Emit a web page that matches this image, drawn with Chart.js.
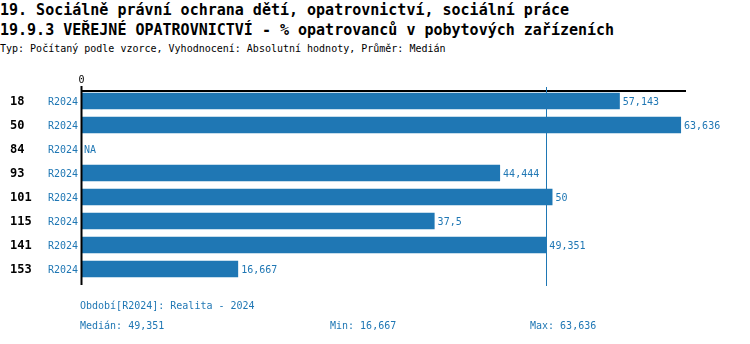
<!DOCTYPE html>
<html>
<head>
<meta charset="utf-8">
<script src="https://cdn.jsdelivr.net/npm/chart.js@4/dist/chart.umd.min.js"></script>
<style>
  html, body { margin: 0; padding: 0; background: #fff; }
  body { width: 750px; height: 344px; position: relative; overflow: hidden; font-family: "DejaVu Sans Mono", monospace; }
  .t { position: absolute; white-space: nowrap; }
  #t1 { left: 0; top: 1px; font-size: 15px; font-weight: bold; color: #000; }
  #t2 { left: 0; top: 21px; font-size: 15px; font-weight: bold; color: #000; }
  #t3 { left: 0; top: 43px; font-size: 10px; color: #000; }
  .f { position: absolute; font-size: 10px; color: #1f77b4; white-space: nowrap; }
  #wrap { position: absolute; left: 0; top: 0; width: 750px; height: 344px; }
</style>
</head>
<body>
<div class="t" id="t1">19. Sociálně právní ochrana dětí, opatrovnictví, sociální práce</div>
<div class="t" id="t2">19.9.3 VEŘEJNÉ OPATROVNICTVÍ - % opatrovanců v pobytových zařízeních</div>
<div class="t" id="t3">Typ: Počítaný podle vzorce, Vyhodnocení: Absolutní hodnoty, Průměr: Medián</div>
<div id="wrap"><canvas id="c" width="750" height="344"></canvas></div>
<div class="f" id="f1" style="left:80px; top:300px;"></div>
<div class="f" id="f2" style="left:80px; top:320px;"></div>
<div class="f" id="f3" style="left:330px; top:320px;"></div>
<div class="f" id="f4" style="left:530px; top:320px;"></div>
<script>
const categories = ['18', '50', '84', '93', '101', '115', '141', '153'];
const periodLabel = 'R2024';
const periodName = 'Realita - 2024';
const values = [57.143, 63.636, null, 44.444, 50, 37.5, 49.351, 16.667];
const xTickLabels = ['0'];

const BLUE = '#1f77b4';
const fmt = v => (v === null ? 'NA' : String(v).replace('.', ','));
const present = values.filter(v => v !== null).slice().sort((a, b) => a - b);
const n = present.length;
const median = n % 2 ? present[(n - 1) / 2] : (present[n / 2 - 1] + present[n / 2]) / 2;
const vMin = present[0];
const vMax = present[n - 1];

document.getElementById('f1').textContent = 'Období[' + periodLabel + ']: ' + periodName;
document.getElementById('f2').textContent = 'Medián: ' + fmt(median);
document.getElementById('f3').textContent = 'Min: ' + fmt(vMin);
document.getElementById('f4').textContent = 'Max: ' + fmt(vMax);

const overlay = {
  id: 'overlay',
  afterDatasetsDraw(chart) {
    const ctx = chart.ctx;
    const xs = chart.scales.x, ys = chart.scales.y;
    const area = chart.chartArea;
    const x0 = xs.getPixelForValue(0);
    ctx.save();
    ctx.strokeStyle = '#000';
    ctx.lineWidth = 2;
    ctx.beginPath();
    ctx.moveTo(x0, area.top + 2);
    ctx.lineTo(area.right, area.top + 2);
    ctx.stroke();
    ctx.beginPath();
    ctx.moveTo(x0 + 0.5, area.top - 3);
    ctx.lineTo(x0 + 0.5, area.bottom + 4);
    ctx.stroke();
    const xm = xs.getPixelForValue(median);
    ctx.strokeStyle = BLUE;
    ctx.lineWidth = 1;
    ctx.beginPath();
    ctx.moveTo(Math.round(xm) + 0.5, area.top - 2);
    ctx.lineTo(Math.round(xm) + 0.5, area.bottom + 5);
    ctx.stroke();
    ctx.font = '10px "DejaVu Sans Mono"';
    ctx.fillStyle = '#000';
    ctx.textAlign = 'center';
    ctx.textBaseline = 'middle';
    ctx.fillText(xTickLabels[0], x0 + 0.5, area.top - 9);
    categories.forEach((cat, i) => {
      const y = ys.getPixelForValue(i);
      ctx.font = 'bold 12px "DejaVu Sans Mono"';
      ctx.fillStyle = '#000';
      ctx.textAlign = 'left';
      ctx.fillText(cat, 10, y + 1);
      ctx.font = '10px "DejaVu Sans Mono"';
      ctx.fillStyle = BLUE;
      ctx.textAlign = 'right';
      ctx.fillText(periodLabel, x0 - 3, y + 1);
      const v = values[i];
      const xe = v === null ? x0 : xs.getPixelForValue(v);
      ctx.textAlign = 'left';
      ctx.fillText(fmt(v), xe + 3, y + 1);
    });
    ctx.restore();
  }
};

new Chart(document.getElementById('c'), {
  type: 'bar',
  data: {
    labels: categories,
    datasets: [{
      data: values,
      backgroundColor: BLUE,
      borderWidth: 0,
      barPercentage: 0.68,
      categoryPercentage: 1.0
    }]
  },
  options: {
    indexAxis: 'y',
    responsive: false,
    animation: false,
    layout: { padding: { left: 81, right: 64, top: 89, bottom: 63 } },
    plugins: { legend: { display: false }, tooltip: { enabled: false } },
    scales: {
      x: { display: false, min: 0, max: 64.16 },
      y: { display: false }
    }
  },
  plugins: [overlay]
});
</script>
</body>
</html>
